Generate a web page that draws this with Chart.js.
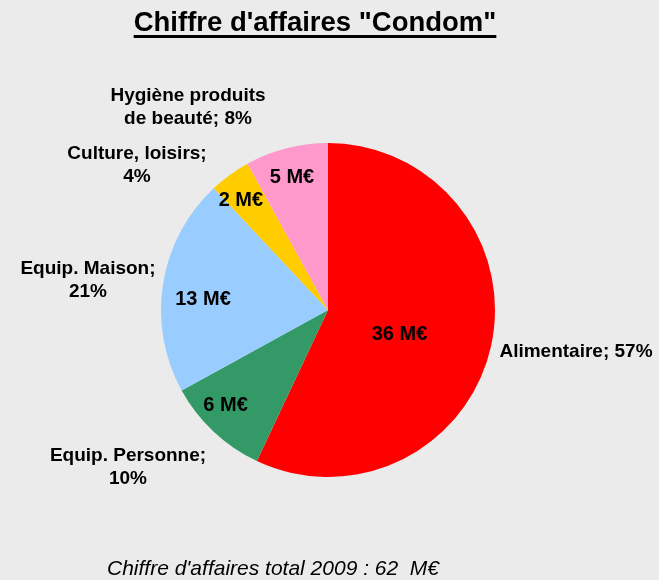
<!DOCTYPE html>
<html>
<head>
<meta charset="utf-8">
<script src="https://cdn.jsdelivr.net/npm/chart.js@4.4.1/dist/chart.umd.min.js"></script>
<style>
  body { margin: 0; background: #ebebeb; }
  canvas { display: block; }
</style>
</head>
<body>
<canvas id="myChart" width="659" height="580"></canvas>
<script>
const categories = ['Alimentaire', 'Equip. Personne', 'Equip. Maison', 'Culture, loisirs', 'Hygiène produits de beauté'];
const shares = [57, 10, 21, 4, 8];          // % du CA
const amounts = [36, 6, 13, 2, 5];          // M€
const totalLabel = "Chiffre d'affaires total 2009 : 62  M€";

const colors = ['#ff0000', '#339966', '#99ccff', '#ffcc00', '#ff99cc'];

// text placement (not data): radius factor, angle shift in degrees
const innerPlace = [[0.452, 6], [0.839, 3.8], [0.751, -4.4], [0.838, -2.5], [0.822, -0.8]];
const outerLines = [
  ['Alimentaire; 57%'],
  ['Equip. Personne;', '10%'],
  ['Equip. Maison;', '21%'],
  ['Culture, loisirs;', '4%'],
  ['Hygiène produits', 'de beauté; 8%']
];
const outerOffsets = [[248, 42], [-200, 157], [-240, -30], [-191, -145], [-140, -203]];

const labelsPlugin = {
  id: 'labels',
  afterDraw(chart) {
    const c = chart.ctx;
    const arcs = chart.getDatasetMeta(0).data;
    c.save();
    c.fillStyle = '#000';
    c.textAlign = 'center';
    c.textBaseline = 'middle';

    // title
    const title = 'Chiffre d\'affaires "Condom"';
    c.font = 'bold 27.5px "Liberation Sans", Arial, sans-serif';
    c.fillText(title, 315, 23);
    const w = c.measureText(title).width;
    c.fillRect(315 - w / 2, 35, w, 3);

    // inner amounts
    c.font = 'bold 20px "Liberation Sans", Arial, sans-serif';
    arcs.forEach((arc, i) => {
      const p = arc.getProps(['x', 'y', 'startAngle', 'endAngle', 'outerRadius'], true);
      const a = (p.startAngle + p.endAngle) / 2 + innerPlace[i][1] * Math.PI / 180;
      const r = p.outerRadius * innerPlace[i][0];
      c.fillText(amounts[i] + ' M€', p.x + Math.cos(a) * r, p.y + Math.sin(a) * r);
    });

    // outer category labels
    c.font = 'bold 19px "Liberation Sans", Arial, sans-serif';
    arcs.forEach((arc, i) => {
      const p = arc.getProps(['x', 'y'], true);
      const lines = outerLines[i];
      const cx = p.x + outerOffsets[i][0];
      const cy = p.y + outerOffsets[i][1];
      lines.forEach((t, k) => {
        c.fillText(t, cx, cy + (k - (lines.length - 1) / 2) * 23);
      });
    });

    // footer
    c.font = 'italic 21px "Liberation Sans", Arial, sans-serif';
    c.fillText(totalLabel, 273, 569);
    c.restore();
  }
};

new Chart(document.getElementById('myChart'), {
  type: 'pie',
  data: {
    labels: categories,
    datasets: [{
      data: shares,
      backgroundColor: colors,
      borderWidth: 0
    }]
  },
  options: {
    responsive: false,
    animation: false,
    radius: 167,
    layout: { padding: { left: 100, right: 103, top: 80, bottom: 40 } },
    plugins: {
      legend: { display: false },
      tooltip: { enabled: false }
    }
  },
  plugins: [labelsPlugin]
});
</script>
</body>
</html>
